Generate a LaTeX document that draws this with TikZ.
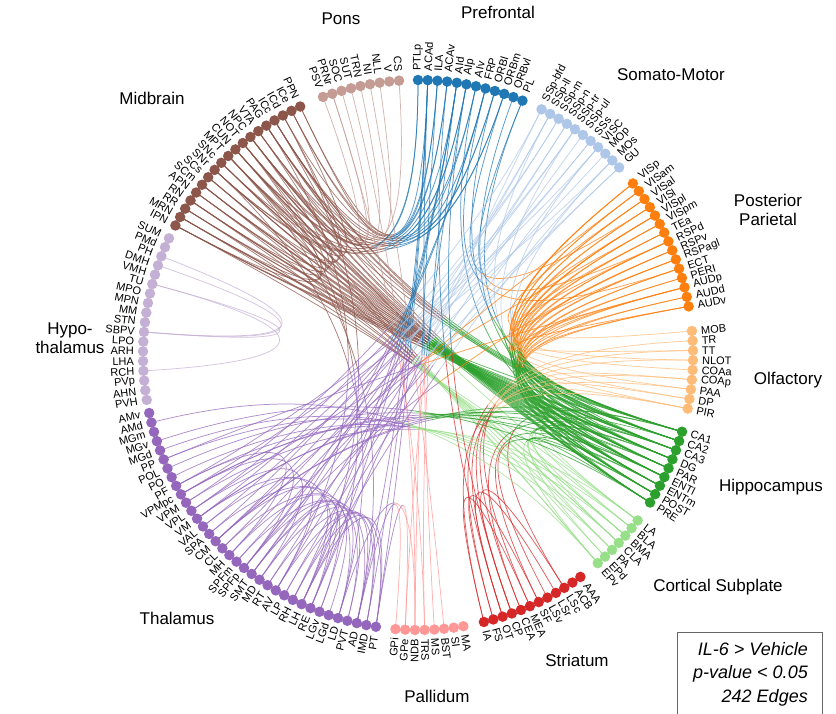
\documentclass[tikz,border=0pt]{standalone}
\usepackage{fontspec}
\setmainfont{Liberation Sans}
\usetikzlibrary{calc}
\pgfdeclarelayer{bg}
\pgfsetlayers{bg,main}

\definecolor{cPF}{HTML}{1F77B4}
\definecolor{cSM}{HTML}{AEC7E8}
\definecolor{cPP}{HTML}{FF7F0E}
\definecolor{cOL}{HTML}{FFBB78}
\definecolor{cHC}{HTML}{2CA02C}
\definecolor{cCS}{HTML}{98DF8A}
\definecolor{cST}{HTML}{D62728}
\definecolor{cPA}{HTML}{FF9896}
\definecolor{cTH}{HTML}{9467BD}
\definecolor{cHY}{HTML}{C5B0D5}
\definecolor{cMB}{HTML}{8C564B}
\definecolor{cPO}{HTML}{C49C94}

% one chord, split in two halves coloured by its two ends
\newcommand\chord[5]{%
  \path (#2.center) coordinate (q0) (#3.center) coordinate (q3);
  \path ($(q0)!#1!(O)$) coordinate (q1) ($(q3)!#1!(O)$) coordinate (q2);
  \path ($(q0)!.5!(q1)$) coordinate (qa) ($(q1)!.5!(q2)$) coordinate (qb) ($(q2)!.5!(q3)$) coordinate (qc);
  \path ($(qa)!.5!(qb)$) coordinate (qd) ($(qb)!.5!(qc)$) coordinate (qe);
  \path ($(qd)!.5!(qe)$) coordinate (qm);
  \draw[edge,#4] (q0) .. controls (qa) and (qd) .. (qm);
  \draw[edge,#5] (qm) .. controls (qe) and (qc) .. (q3);
}
% a bundle of chords: #1 last index, #2 pull, #3/#4 first end, #5/#6 second end, #7/#8 colours
\newcommand\bund[8]{%
  \foreach \i in {0,...,#1}{%
    \pgfmathtruncatemacro\ia{#4}%
    \pgfmathtruncatemacro\ib{#6}%
    \chord{#2}{#3\ia}{#5\ib}{#7}{#8}}}
% a group of region nodes on the ring
\newcommand\ring[4]{%
  \foreach \nm [count=\k] in {#4}{%
    \pgfmathsetmacro\ang{#2-(\k-1)*2.03}%
    \node[dot,fill=#3,alias=#1\k] (\nm) at (\ang:275) {};
    \pgfmathtruncatemacro\lft{(\ang<-90.5 && \ang>-269.5) ? 1 : 0}%
    \ifnum\lft=1
      \node[lab,anchor=east,rotate=\ang+180] at (\ang:284) {\nm};
    \else
      \node[lab,anchor=west,rotate=\ang] at (\ang:284) {\nm};
    \fi
  }}

\begin{document}
\begin{tikzpicture}[x=1pt,y=1pt,
  dot/.style={circle,inner sep=0pt,minimum size=10.5pt,draw=none},
  lab/.style={inner sep=0pt,font=\fontsize{11}{11}\selectfont},
  grptitle/.style={font=\fontsize{17}{19}\selectfont,align=center,inner sep=0pt},
  legtext/.style={font=\itshape\fontsize{18}{18}\selectfont,inner sep=0pt,anchor=base east},
  edge/.style={line width=0.75pt,draw opacity=0.75}]
\useasboundingbox (-418,-358) rectangle (418,355);
\coordinate (O) at (0,0);

\ring{pf}{90}{cPF}{PTLp,ACAd,ILA,ACAv,AId,AIp,AIv,FRP,ORBl,ORBm,ORBvl,PL}
\ring{sm}{63.3}{cSM}{SSp-bfd,SSp-ll,SSp-m,SSp-n,SSp-tr,SSp-ul,SSs,VISC,MOp,MOs,GU}
\ring{pp}{38.6}{cPP}{VISp,VISam,VISal,VISl,VISpl,VISpm,TEa,RSPd,RSPv,RSPagl,ECT,PERI,AUDp,AUDd,AUDv}
\ring{ol}{5}{cOL}{MOB,TR,TT,NLOT,COAa,COAp,PAA,DP,PIR}
\ring{hc}{-16.2}{cHC}{CA1,CA2,CA3,DG,PAR,ENTl,ENTm,POST,PRE}
\ring{cs}{-37}{cCS}{LA,BLA,BMA,CLA,PA,EPd,EPv}
\ring{st}{-53.8}{cST}{AAA,ACB,LSc,LSr,LSv,SF,MEA,CEA,CP,OT,FS,IA}
\ring{pa}{-80.5}{cPA}{MA,SI,BST,MS,TRS,NDB,GPe,GPi}
\ring{th}{-98.8}{cTH}{PT,IMD,AD,PVT,LD,LGd,LGv,RE,LH,RH,LP,AV,RT,MD,SMT,SPFp,SPFm,MH,CL,CM,SPA,VAL,VM,VPL,VPM,VPMpc,PF,PO,POL,PP,MGd,MGv,MGm,AMd,AMv}
\ring{hy}{-170.6}{cHY}{PVH,AHN,PVp,RCH,LHA,ARH,LPO,SBPV,STN,MM,MPN,MPO,TU,VMH,DMH,PH,PMd,SUM}
\ring{mb}{-208.1}{cMB}{IPN,MRN,RR,RN,APN,SCm,SCs,SNr,SNc,MPT,CUN,NOT,NPC,VTA,PAG,ICc,ICd,ICe,PPN}
\ring{po}{-249.8}{cPO}{PSV,PRNr,SOC,SUT,TRN,NI,NLL,V,CS}

\begin{pgfonlayer}{bg}
\bund{39}{.7}{mb}{1+mod(\i*7,16)}{hc}{1+mod(\i*4,9)}{cMB}{cHC}
\bund{10}{.7}{mb}{1+mod(\i*5,12)}{cs}{1+mod(\i*3,7)}{cMB}{cCS}
\foreach \x/\y in {mb3/mb12,mb5/mb14,mb2/mb10,mb7/mb16,mb4/mb13,mb6/mb17,mb9/mb18,mb1/mb11}{\chord{.72}{\x}{\y}{cMB}{cMB}}
\bund{16}{.72}{mb}{8+mod(\i*5,12)}{pf}{1+mod(\i*3,10)}{cMB}{cPF}
\bund{5}{.72}{mb}{10+mod(\i*3,10)}{po}{1+mod(\i*2,9)}{cMB}{cPO}
\foreach \x/\y in {po2/pa5,po4/pa6,po6/pa3}{\chord{.7}{\x}{\y}{cPO}{cPA}}
\foreach \x/\y in {pf9/hc2,pf11/hc5,pf7/hc7,pf12/hc3}{\chord{.75}{\x}{\y}{cPF}{cHC}}
\bund{7}{.65}{pf}{2+mod(\i*3,9)}{th}{1+mod(\i*7,20)}{cPF}{cTH}
\foreach \x/\y in {pf10/pp4,pf12/pp8,pf8/pp11}{\chord{.8}{\x}{\y}{cPF}{cPP}}
\bund{19}{.6}{sm}{1+mod(\i*3,11)}{th}{8+mod(\i*7,20)}{cSM}{cTH}
\foreach \x/\y in {sm2/hc6,sm5/hc8,sm8/hc4,sm10/hc9}{\chord{.75}{\x}{\y}{cSM}{cHC}}
\bund{31}{.8}{pp}{1+mod(\i*4,15)}{hc}{1+mod(\i*5,9)}{cPP}{cHC}
\bund{6}{.85}{pp}{3+mod(\i*5,13)}{ol}{1+mod(\i*4,9)}{cPP}{cOL}
\foreach \x/\y in {pp2/th20,pp6/th24,pp9/th16,pp13/th30}{\chord{.65}{\x}{\y}{cPP}{cTH}}
\foreach \x/\y in {ol2/st11,ol4/st9,ol7/st12,ol9/st10,ol6/st8,ol3/st7}{\chord{.8}{\x}{\y}{cOL}{cST}}
\foreach \x/\y in {st12/st7,st11/st6,st10/st4,st9/st3}{\chord{.6}{\x}{\y}{cST}{cST}}
\foreach \x/\y in {st8/hc3,st6/hc6,st5/hc8,st3/hc1}{\chord{.7}{\x}{\y}{cST}{cHC}}
\bund{6}{.65}{cs}{1+mod(\i*3,7)}{hc}{3+mod(\i*2,7)}{cCS}{cHC}
\bund{5}{.7}{cs}{1+mod(\i*2,7)}{th}{25+mod(\i*3,10)}{cCS}{cTH}
\foreach \x/\y in {th13/th2,th14/th4,th15/th5,th12/th1,th11/th3,th10/th2,th16/th6,th17/th3,th9/th1,th18/th7,th19/th4,th20/th9,th22/th12,th24/th14,th26/th16,th21/th5,th23/th8,th27/th18,th15/th8}{\chord{.5}{\x}{\y}{cTH}{cTH}}
\bund{7}{.7}{th}{20+mod(\i*3,15)}{hc}{1+mod(\i*2,9)}{cTH}{cHC}
\foreach \x/\y in {hy16/hy8,hy13/hy4,hy15/hy8,hy13/hy8}{\chord{.65}{\x}{\y}{cHY}{cHY}}
\foreach \x/\y in {pa6/pf3,pa5/pf5,pa4/pf2,pa7/pf6}{\chord{.7}{\x}{\y}{cPA}{cPF}}
\foreach \x/\y in {th5/mb8,th7/mb12,th12/mb15,th3/mb10,th9/mb17}{\chord{.7}{\x}{\y}{cTH}{cMB}}
\foreach \x/\y in {pa7/th1,pa8/th3,pa6/th5}{\chord{.6}{\x}{\y}{cPA}{cTH}}
\foreach \x/\y in {ol8/hc2,ol9/hc4,ol6/hc1}{\chord{.7}{\x}{\y}{cOL}{cHC}}
\foreach \x/\y in {st10/pf4,st9/pf6}{\chord{.7}{\x}{\y}{cST}{cPF}}
\end{pgfonlayer}

% group titles
\node[grptitle] (tPons) at (-77,336) {Pons};
\node[grptitle] (tPF) at (80,343) {Prefrontal};
\node[grptitle] (tSM) at (253,280) {Somato-Motor};
\node[grptitle] (tPP) at (350,145) {Posterior\\Parietal};
\node[grptitle] (tOL) at (370,-25) {Olfactory};
\node[grptitle] (tHC) at (353,-132) {Hippocampus};
\node[grptitle] (tCS) at (300,-232) {Cortical Subplate};
\node[grptitle] (tST) at (159,-305) {Striatum};
\node[grptitle] (tPA) at (19,-341) {Pallidum};
\node[grptitle] (tTH) at (-241,-263) {Thalamus};
\node[grptitle] (tHY) at (-348,17) {Hypo-\\thalamus};
\node[grptitle] (tMB) at (-266,257) {Midbrain};

% legend
\coordinate (lgA) at (259,-360);
\coordinate (lgB) at (259,-277);
\coordinate (lgC) at (404,-277);
\coordinate (lgD) at (404,-360);
\draw[line width=0.9pt,black!60] (lgA) -- (lgB) -- (lgC) -- (lgD);
\node[legtext] (lg1) at (390,-300) {IL-6 > Vehicle};
\node[legtext] (lg2) at (390,-323) {p-value < 0.05};
\node[legtext] (lg3) at (390,-347) {242 Edges};
\end{tikzpicture}
\end{document}
